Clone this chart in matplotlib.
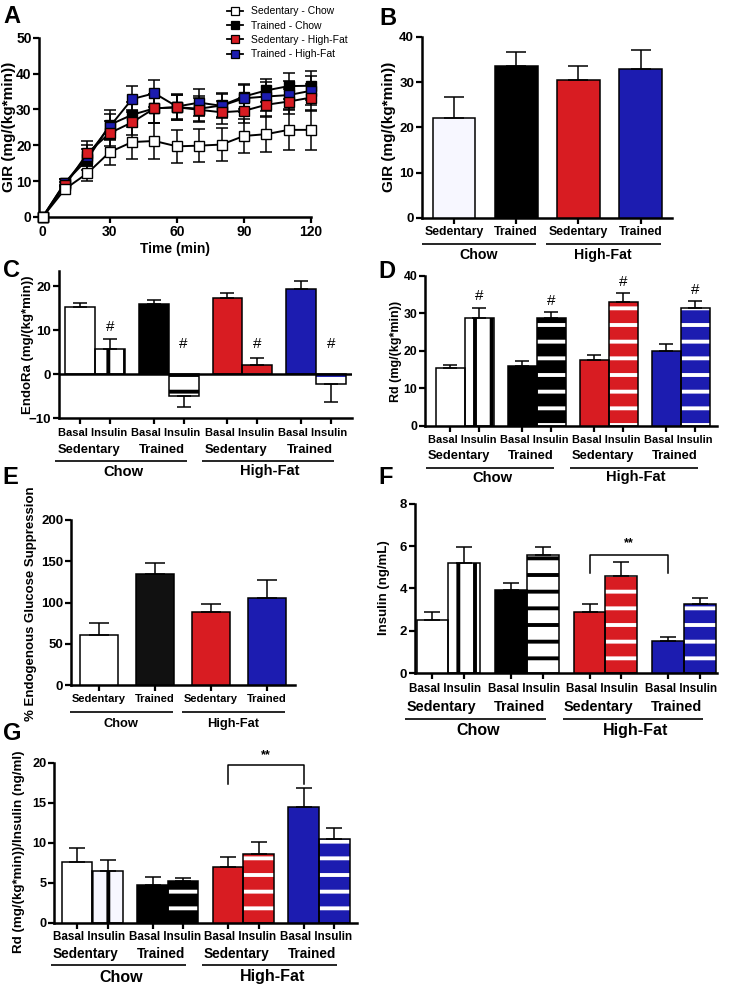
import matplotlib
matplotlib.use('Agg')
import matplotlib.pyplot as plt
import matplotlib.transforms as mtransforms
import numpy as np

plt.rcParams['font.family'] = ['Liberation Sans', 'DejaVu Sans']
plt.rcParams['font.weight'] = 'bold'
plt.rcParams['hatch.linewidth'] = 2.8

W, H = 732, 986
RED = '#d81c22'
BLUE = '#1c1cb0'
LAV = '#f7f7ff'

# ---------------- data ----------------
# Panel A: GIR time course
time_min = [0, 10, 20, 30, 40, 50, 60, 70, 80, 90, 100, 110, 120]
gir_sed_chow = [0, 7.8, 12.2, 18.1, 20.9, 21.2, 19.7, 19.9, 20.2, 22.6, 23.1, 24.3, 24.3]
gir_sed_chow_sem = [0, 1.0, 2.3, 3.5, 4.7, 4.9, 4.7, 4.6, 4.5, 4.8, 5.1, 5.5, 5.6]
gir_tr_chow = [0, 9.6, 16.1, 25.7, 28.5, 30.3, 30.6, 30.2, 31.1, 33.6, 35.3, 36.5, 36.6]
gir_tr_chow_sem = [0, 1.0, 3.0, 4.0, 3.5, 4.0, 3.5, 3.5, 3.2, 3.5, 3.3, 3.6, 4.0]
gir_sed_hf = [0, 8.8, 17.8, 23.4, 26.4, 30.3, 30.6, 29.9, 29.2, 29.6, 31.3, 32.2, 33.3]
gir_sed_hf_sem = [0, 1.0, 3.5, 3.5, 3.5, 4.0, 3.5, 3.3, 3.2, 3.5, 3.5, 3.6, 3.8]
gir_tr_hf = [0, 9.5, 17.1, 25.2, 32.9, 34.5, 30.8, 31.9, 31.0, 33.1, 33.6, 34.0, 35.2]
gir_tr_hf_sem = [0, 1.0, 3.0, 3.5, 3.6, 3.7, 3.5, 3.8, 3.5, 3.8, 4.0, 4.0, 4.0]
series_labels = ['Sedentary - Chow', 'Trained - Chow', 'Sedentary - High-Fat', 'Trained - High-Fat']

# Shared categories
training = ['Sedentary', 'Trained', 'Sedentary', 'Trained']
diets = ['Chow', 'High-Fat']
conditions = ['Basal', 'Insulin']

# Panel B: GIR
gir_mean = [22.0, 33.6, 30.5, 32.9]
gir_sem = [4.8, 3.0, 3.1, 4.1]

# Panel C: EndoRa
endora_basal = [15.4, 15.9, 17.4, 19.4]
endora_basal_sem = [0.8, 1.1, 1.2, 1.9]
endora_insulin = [5.7, -5.0, 2.1, -2.3]
endora_insulin_sem = [2.3, 2.4, 1.7, 3.9]

# Panel D: Rd
rd_basal = [15.5, 16.0, 17.5, 19.9]
rd_basal_sem = [0.8, 1.2, 1.3, 2.0]
rd_insulin = [28.6, 28.8, 33.1, 31.5]
rd_insulin_sem = [2.9, 1.5, 2.2, 1.7]

# Panel E: % endogenous glucose suppression
egs_mean = [60.5, 134.0, 88.5, 106.0]
egs_sem = [14.5, 14.0, 10.0, 21.0]

# Panel F: insulin
ins_basal = [2.49, 3.92, 2.88, 1.53]
ins_basal_sem = [0.38, 0.36, 0.40, 0.16]
ins_clamp = [5.20, 5.59, 4.57, 3.28]
ins_clamp_sem = [0.75, 0.36, 0.67, 0.29]

# Panel G: Rd / insulin
ratio_basal = [7.63, 4.70, 7.00, 14.5]
ratio_basal_sem = [1.67, 1.05, 1.17, 2.30]
ratio_insulin = [6.50, 5.25, 8.54, 10.5]
ratio_insulin_sem = [1.33, 0.38, 1.56, 1.30]

# ---------------- helpers ----------------
fig = plt.figure(figsize=(W / 100, H / 100), dpi=100)


def add_ax(l, t, r, b):
    return fig.add_axes([l / W, 1 - b / H, (r - l) / W, (b - t) / H])


def style(ax, ylim, yticks, xlim, labelsize=9.5):
    for s in ['top', 'right']:
        ax.spines[s].set_visible(False)
    for s in ['left', 'bottom']:
        ax.spines[s].set_linewidth(1.8)
    ax.tick_params(axis='both', width=1.6, length=4, direction='out',
                   labelsize=labelsize, pad=1.5)
    ax.set_ylim(*ylim)
    ax.set_yticks(yticks)
    ax.set_xlim(*xlim)
    ax.patch.set_visible(False)


def btr(ax):
    return mtransforms.blended_transform_factory(ax.transData, fig.transFigure)


def tx(ax, x, ypix, s, size, weight='bold'):
    ax.text(x, 1 - ypix / H, s, transform=btr(ax), ha='center', va='center',
            fontsize=size, fontweight=weight, clip_on=False)


def hline(ax, x0, x1, ypix):
    ax.plot([x0, x1], [1 - ypix / H] * 2, transform=btr(ax), color='k',
            lw=1.2, clip_on=False, solid_capstyle='butt')


def ylab(xpix, ypix, s, size):
    fig.text(xpix / W, 1 - ypix / H, s, rotation=90, ha='center', va='center',
             fontsize=size, fontweight='bold')


def letter(xpix, ypix, s):
    fig.text(xpix / W, 1 - ypix / H, s, ha='left', va='top', fontsize=17,
             fontweight='bold')


def errbars(ax, x, vals, sems, capsize):
    vals = np.asarray(vals)
    sems = np.asarray(sems)
    up = np.where(vals >= 0, sems, 0)
    lo = np.where(vals < 0, sems, 0)
    ax.errorbar(x, vals, yerr=[lo, up], fmt='none', ecolor='k', elinewidth=1.1,
                capsize=capsize, capthick=1.1, zorder=4)


def bars(ax, x, vals, width, fill, hatch=None, hatchcolor=None):
    if hatch:
        ax.bar(x, vals, width, color=fill, edgecolor=hatchcolor, hatch=hatch,
               linewidth=0, zorder=2)
        ax.bar(x, vals, width, fill=False, edgecolor='k', linewidth=1.1, zorder=3)
    else:
        ax.bar(x, vals, width, color=fill, edgecolor='k', linewidth=1.1, zorder=3)


basal_fill = ['white', 'black', RED, BLUE]
SPACING = 2.47
bx = np.arange(4) * SPACING
ix = bx + 1.0


def pair_panel(ax, basal, bsem, ins, isem, ins_style, ypos, fsz, capsize):
    for k in range(4):
        bars(ax, [bx[k]], [basal[k]], 1.0, basal_fill[k])
        f, h, hc = ins_style[k]
        bars(ax, [ix[k]], [ins[k]], 1.0, f, h, hc)
    errbars(ax, bx, basal, bsem, capsize)
    errbars(ax, ix, ins, isem, capsize)
    ax.set_xticks(np.sort(np.concatenate([bx, ix])))
    ax.set_xticklabels([])
    y_bi, y_st, y_ln, y_dt = ypos
    f_bi, f_st, f_dt = fsz
    for k in range(4):
        tx(ax, bx[k] + 0.4, y_bi, conditions[0] + ' ' + conditions[1], f_bi)
        tx(ax, bx[k] + 0.28, y_st, training[k], f_st)
    for g in range(2):
        b0 = bx[2 * g]
        i1 = ix[2 * g + 1]
        hline(ax, b0 - 0.85, i1 + 0.1, y_ln)
        tx(ax, (b0 + i1) / 2 - 0.3, y_dt, diets[g], f_dt)


def single_panel(ax, vals, sems, width, ypos, fsz, capsize, fills):
    x = np.arange(4)
    for k in range(4):
        bars(ax, [x[k]], [vals[k]], width, fills[k])
    errbars(ax, x, vals, sems, capsize)
    ax.set_xticks(x)
    ax.set_xticklabels([])
    y_st, y_ln, y_dt = ypos
    f_st, f_dt = fsz
    for k in range(4):
        tx(ax, x[k], y_st, training[k], f_st)
    for g in range(2):
        x0 = x[2 * g] - 0.52
        x1 = x[2 * g + 1] + 0.32
        hline(ax, x0, x1, y_ln)
        tx(ax, (x0 + x1) / 2, y_dt, diets[g], f_dt)


# ---------------- Panel A ----------------
axA = add_ax(39.3, 37.7, 311.0, 217.0)
style(axA, (0, 50), [0, 10, 20, 30, 40, 50], (-1.5, 120), labelsize=10)
axA.set_xticks([0, 30, 60, 90, 120])
A_series = [(gir_sed_chow, gir_sed_chow_sem, 'white'),
            (gir_tr_chow, gir_tr_chow_sem, 'black'),
            (gir_sed_hf, gir_sed_hf_sem, RED),
            (gir_tr_hf, gir_tr_hf_sem, BLUE)]
handles = []
for k in [1, 3, 2, 0]:
    vals, sems, fc = A_series[k]
    axA.errorbar(time_min, vals, yerr=sems, fmt='none', ecolor='k',
                 elinewidth=1.1, capsize=4, capthick=1.1, zorder=3, clip_on=False)
for k in [1, 3, 2, 0]:
    vals, sems, fc = A_series[k]
    axA.plot(time_min, vals, '-', color='k', lw=1.4, marker='s', ms=6.8,
             mfc=fc, mec='k', mew=1.0, zorder=4, clip_on=False)
for k in range(4):
    vals, sems, fc = A_series[k]
    h, = axA.plot([], [], '-', color='k', lw=1.3, marker='s', ms=5.5,
                  mfc=fc, mec='k', mew=0.9, label=series_labels[k])
    handles.append(h)
axA.legend(handles=handles, loc='upper left', bbox_to_anchor=(221 / W, 1 - 0 / H),
           bbox_transform=fig.transFigure, frameon=False,
           prop={'weight': 'normal', 'size': 7.5}, labelspacing=0.42,
           handlelength=1.5, handletextpad=0.8, borderpad=0.1)
fig.text(175 / W, 1 - 249 / H, 'Time (min)', ha='center', va='center',
         fontsize=10, fontweight='bold')
ylab(9, 127, 'GIR (mg/(kg*min))', 11)
letter(3, 5, 'A')

# ---------------- Panel B ----------------
axB = add_ax(421.7, 36.7, 671.7, 218.0)
style(axB, (0, 40), [0, 10, 20, 30, 40], (-0.52, 3.5))
single_panel(axB, gir_mean, gir_sem, 0.686, (231.7, 244.0, 255.0), (8.8, 10.2), 7.5,
             [LAV, 'black', RED, BLUE])
ylab(389, 127, 'GIR (mg/(kg*min))', 11)
letter(379, 7, 'B')

# ---------------- Panel C ----------------
axC = add_ax(59.0, 271.0, 351.7, 418.3)
style(axC, (-10, 23.5), [-10, 0, 10, 20], (-0.715, 9.11))
axC.axhline(0, color='k', lw=1.8, zorder=5)
C_style = [('white', '|', 'black'), ('white', '-', 'black'),
           (RED, '-', 'white'), ('white', '-', BLUE)]
pair_panel(axC, endora_basal, endora_basal_sem, endora_insulin, endora_insulin_sem,
           C_style, (433.3, 450.0, 461.0, 471.5), (8.0, 9.4, 10.6), 5.2)
for k in range(4):
    top = endora_insulin[k] + endora_insulin_sem[k] if endora_insulin[k] >= 0 else endora_insulin[k]
    axC.text(ix[k], max(top, 4.0) + 2.8, '#', ha='center', va='center',
             fontsize=11, fontweight='normal')
ylab(28, 345, 'EndoRa (mg/(kg*min))', 9.5)
letter(3, 259, 'C')

# ---------------- Panel D ----------------
axD = add_ax(425.0, 275.7, 716.7, 425.7)
style(axD, (0, 40), [0, 10, 20, 30, 40], (-0.87, 9.14), labelsize=8.8)
D_style = [('white', '|', 'black'), ('black', '-', 'white'),
           (RED, '-', 'white'), (BLUE, '-', 'white')]
pair_panel(axD, rd_basal, rd_basal_sem, rd_insulin, rd_insulin_sem,
           D_style, (440.0, 456.0, 467.7, 477.5), (7.9, 9.3, 10.6), 5.2)
for k in range(4):
    axD.text(ix[k], rd_insulin[k] + rd_insulin_sem[k] + 3.0, '#', ha='center',
             va='center', fontsize=11, fontweight='normal')
ylab(396, 351, 'Rd (mg/(kg*min))', 9.0)
letter(378, 260, 'D')

# ---------------- Panel E ----------------
axE = add_ax(71.0, 519.7, 295.0, 685.3)
style(axE, (0, 200), [0, 50, 100, 150, 200], (-0.5, 3.5))
single_panel(axE, egs_mean, egs_sem, 0.67, (699.3, 711.7, 724.0), (8.0, 9.3), 7.0,
             ['white', '#111111', RED, BLUE])
ylab(31, 604, '% Endogenous Glucose Suppression', 9.5)
letter(2, 466, 'E')

# ---------------- Panel F ----------------
axF = add_ax(415.0, 503.6, 716.7, 673.3)
style(axF, (0, 8), [0, 2, 4, 6, 8], (-0.55, 8.94))
F_style = [('white', '|', 'black'), ('white', '-', 'black'),
           (RED, '-', 'white'), (BLUE, '-', 'white')]
pair_panel(axF, ins_basal, ins_basal_sem, ins_clamp, ins_clamp_sem,
           F_style, (689.3, 706.7, 719.3, 730.5), (8.4, 10.4, 11.5), 5.5)
axF.plot([bx[2], bx[2], bx[3], bx[3]], [4.73, 5.58, 5.58, 4.73], color='k', lw=1.1)
axF.text((bx[2] + bx[3]) / 2, 6.15, '**', ha='center', va='center', fontsize=9)
ylab(384, 588, 'Insulin (ng/mL)', 9.5)
letter(378, 466, 'F')

# ---------------- Panel G ----------------
axG = add_ax(54.0, 762.7, 356.7, 922.7)
style(axG, (0, 20), [0, 5, 10, 15, 20], (-0.75, 9.14), labelsize=9.2)
G_style = [(LAV, '|', 'black'), ('black', '-', 'white'),
           (RED, '-', 'white'), (BLUE, '-', 'white')]
pair_panel(axG, ratio_basal, ratio_basal_sem, ratio_insulin, ratio_insulin_sem,
           G_style, (937.3, 954.0, 965.0, 977.0), (8.4, 9.8, 11.5), 5.5)
axG.plot([bx[2], bx[2], bx[3], bx[3]], [17.4, 19.7, 19.7, 17.4], color='k', lw=1.1,
         clip_on=False)
axG.text((bx[2] + bx[3]) / 2, 20.9, '**', ha='center', va='center', fontsize=9,
         clip_on=False)
ylab(19, 852, 'Rd (mg/(kg*min))/Insulin (ng/ml)', 9.6)
letter(3, 722, 'G')

fig.savefig('out.png', dpi=100)
